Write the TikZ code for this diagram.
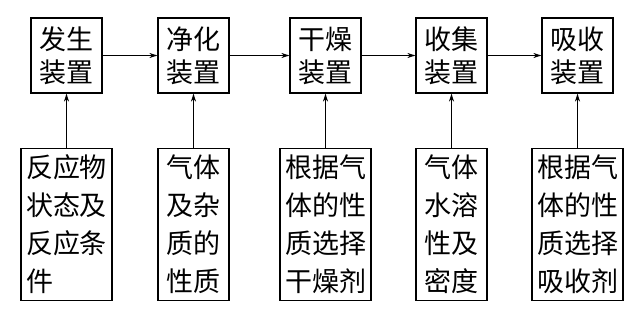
\documentclass[tikz,border=0pt]{standalone}
\usepackage{fontspec}
\usepackage{tikz}
\usetikzlibrary{arrows.meta,positioning}
\newfontfamily\cjk{Noto Sans CJK SC}
\tikzset{
  devbox/.style={draw, line width=1.2pt, minimum width=71pt, minimum height=75pt, inner sep=0pt, align=center, font=\cjk\fontsize{27}{33}\selectfont},
  basisbox/.style={draw, line width=1.2pt, minimum width=71pt, minimum height=152pt, inner xsep=5pt, inner ysep=0pt, align=left, font=\cjk\fontsize{27}{38}\selectfont},
  flow/.style={line width=1.2pt, -{Stealth[length=8pt,width=5pt]}}
}

\begin{document}
\begin{tikzpicture}[x=1pt,y=1pt]
\useasboundingbox (0,0) rectangle (640,314);
% devices
\node[devbox] (gen) at (66.5,258.5) {发生\\装置};
\node[devbox] (purify) at (193.5,258.5) {净化\\装置};
\node[devbox] (dry) at (325.5,258.5) {干燥\\装置};
\node[devbox] (collect) at (451.5,258.5) {收集\\装置};
\node[devbox] (absorb) at (577.5,258.5) {吸收\\装置};
% what each choice depends on
\node[basisbox, below=54pt of gen] (genbasis) {反应物\\状态及\\反应条\\件};
\node[basisbox, below=54pt of purify] (purifybasis) {气体\\及杂\\质的\\性质};
\node[basisbox, below=54pt of dry] (drybasis) {根据气\\体的性\\质选择\\干燥剂};
\node[basisbox, below=54pt of collect] (collectbasis) {气体\\水溶\\性及\\密度};
\node[basisbox, below=54pt of absorb] (absorbbasis) {根据气\\体的性\\质选择\\吸收剂};
% arrows
\draw[flow] (gen) -- (purify);
\draw[flow] (purify) -- (dry);
\draw[flow] (dry) -- (collect);
\draw[flow] (collect) -- (absorb);
\draw[flow] (genbasis) -- (gen);
\draw[flow] (purifybasis) -- (purify);
\draw[flow] (drybasis) -- (dry);
\draw[flow] (collectbasis) -- (collect);
\draw[flow] (absorbbasis) -- (absorb);
\end{tikzpicture}
\end{document}
